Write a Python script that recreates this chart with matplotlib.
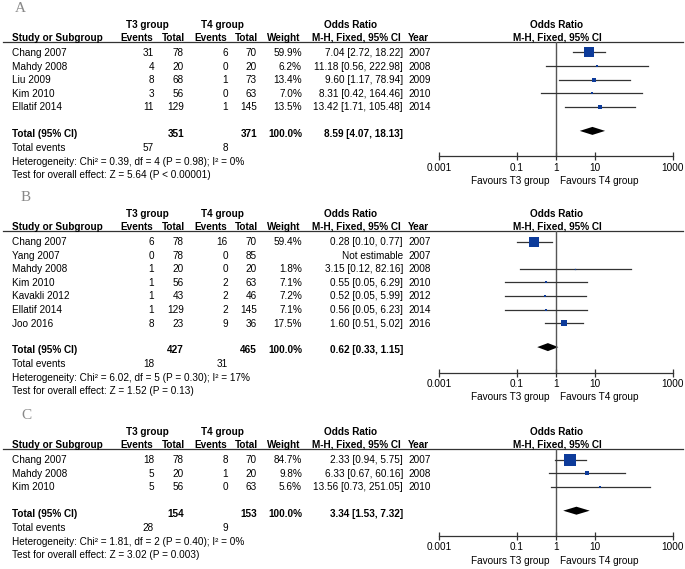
import matplotlib
matplotlib.use('Agg')
import matplotlib.pyplot as plt

plt.rcParams['font.family'] = ['Liberation Sans', 'DejaVu Sans']

# ---- panel A ----
a_study = ['Chang 2007', 'Mahdy 2008', 'Liu 2009', 'Kim 2010', 'Ellatif 2014']
a_t3_ev = [31, 4, 8, 3, 11]
a_t3_n = [78, 20, 68, 56, 129]
a_t4_ev = [6, 0, 1, 0, 1]
a_t4_n = [70, 20, 73, 63, 145]
a_weight = [59.9, 6.2, 13.4, 7.0, 13.5]
a_or = [7.04, 11.18, 9.60, 8.31, 13.42]
a_lo = [2.72, 0.56, 1.17, 0.42, 1.71]
a_hi = [18.22, 222.98, 78.94, 164.46, 105.48]
a_year = [2007, 2008, 2009, 2010, 2014]
a_total = [351, 371, 8.59, 4.07, 18.13]   # n T3, n T4, OR, lo, hi
a_events = [57, 8]
a_het = 'Heterogeneity: Chi\u00b2 = 0.39, df = 4 (P = 0.98); I\u00b2 = 0%'
a_test = 'Test for overall effect: Z = 5.64 (P < 0.00001)'

# ---- panel B ----
b_study = ['Chang 2007', 'Yang 2007', 'Mahdy 2008', 'Kim 2010', 'Kavakli 2012',
           'Ellatif 2014', 'Joo 2016']
b_t3_ev = [6, 0, 1, 1, 1, 1, 8]
b_t3_n = [78, 78, 20, 56, 43, 129, 23]
b_t4_ev = [16, 0, 0, 2, 2, 2, 9]
b_t4_n = [70, 85, 20, 63, 46, 145, 36]
b_weight = [59.4, None, 1.8, 7.1, 7.2, 7.1, 17.5]
b_or = [0.28, None, 3.15, 0.55, 0.52, 0.56, 1.60]
b_lo = [0.10, None, 0.12, 0.05, 0.05, 0.05, 0.51]
b_hi = [0.77, None, 82.16, 6.29, 5.99, 6.23, 5.02]
b_year = [2007, 2007, 2008, 2010, 2012, 2014, 2016]
b_total = [427, 465, 0.62, 0.33, 1.15]
b_events = [18, 31]
b_het = 'Heterogeneity: Chi\u00b2 = 6.02, df = 5 (P = 0.30); I\u00b2 = 17%'
b_test = 'Test for overall effect: Z = 1.52 (P = 0.13)'

# ---- panel C ----
c_study = ['Chang 2007', 'Mahdy 2008', 'Kim 2010']
c_t3_ev = [18, 5, 5]
c_t3_n = [78, 20, 56]
c_t4_ev = [8, 1, 0]
c_t4_n = [70, 20, 63]
c_weight = [84.7, 9.8, 5.6]
c_or = [2.33, 6.33, 13.56]
c_lo = [0.94, 0.67, 0.73]
c_hi = [5.75, 60.16, 251.05]
c_year = [2007, 2008, 2010]
c_total = [154, 153, 3.34, 1.53, 7.32]
c_events = [28, 9]
c_het = 'Heterogeneity: Chi\u00b2 = 1.81, df = 2 (P = 0.40); I\u00b2 = 0%'
c_test = 'Test for overall effect: Z = 3.02 (P = 0.003)'

ticks = [0.001, 0.1, 1, 10, 1000]
tick_labels = ['0.001', '0.1', '1', '10', '1000']

W, H = 685, 569
FS = 7.2
fig = plt.figure(figsize=(W / 100, H / 100), dpi=100)
base = fig.add_axes([0, 0, 1, 1])
base.set_xlim(0, W)
base.set_ylim(H, 0)
base.axis('off')

blue = '#0d3b9a'
line_col = '#333333'


def txt(x, y, s, ha='left', bold=False, **kw):
    base.text(x, y + 0.5, s, ha=ha, va='center', fontsize=FS,
              fontweight='bold' if bold else 'normal', **kw)


def panel(letter, top, study, t3e, t3n, t4e, t4n, wt, orv, lo, hi, year,
          total, events, het, test, letter_x):
    # headers
    base.text(letter_x, top - 34, letter, ha='center', va='center',
              fontsize=11, color='#888888', family='Liberation Serif')
    txt(147, top - 18, 'T3 group', ha='center', bold=True)
    txt(222, top - 18, 'T4 group', ha='center', bold=True)
    txt(351, top - 18, 'Odds Ratio', ha='center', bold=True)
    txt(557, top - 18, 'Odds Ratio', ha='center', bold=True)
    txt(12, top - 5, 'Study or Subgroup', bold=True)
    txt(137, top - 5, 'Events', ha='center', bold=True)
    txt(173, top - 5, 'Total', ha='center', bold=True)
    txt(211, top - 5, 'Events', ha='center', bold=True)
    txt(246, top - 5, 'Total', ha='center', bold=True)
    txt(284, top - 5, 'Weight', ha='center', bold=True)
    txt(401, top - 5, 'M-H, Fixed, 95% CI', ha='right', bold=True)
    txt(408, top - 5, 'Year', bold=True)
    txt(557, top - 5, 'M-H, Fixed, 95% CI', ha='center', bold=True)
    base.plot([3, 683], [top, top], color=line_col, lw=0.9)

    rows = [top + 10.5 + 13.6 * i for i in range(len(study))]
    for i, y in enumerate(rows):
        txt(12, y, study[i])
        txt(154, y, str(t3e[i]), ha='right')
        txt(184, y, str(t3n[i]), ha='right')
        txt(228, y, str(t4e[i]), ha='right')
        txt(257, y, str(t4n[i]), ha='right')
        if wt[i] is not None:
            txt(302, y, '%.1f%%' % wt[i], ha='right')
            txt(403, y, '%.2f [%.2f, %.2f]' % (orv[i], lo[i], hi[i]), ha='right')
        else:
            txt(403, y, 'Not estimable', ha='right')
        txt(408, y, str(year[i]))

    ty = rows[-1] + 26.5
    txt(12, ty, 'Total (95% CI)', bold=True)
    txt(184, ty, str(total[0]), ha='right', bold=True)
    txt(257, ty, str(total[1]), ha='right', bold=True)
    txt(302, ty, '100.0%', ha='right', bold=True)
    txt(403, ty, '%.2f [%.2f, %.2f]' % (total[2], total[3], total[4]),
        ha='right', bold=True)
    txt(12, ty + 14, 'Total events')
    txt(154, ty + 14, str(events[0]), ha='right')
    txt(228, ty + 14, str(events[1]), ha='right')
    txt(12, ty + 28, het)
    txt(12, ty + 41, test)

    # forest plot
    axis_y = ty + 23
    ax = fig.add_axes([439 / W, 1 - axis_y / H, 234 / W, (axis_y - top) / H])
    ax.patch.set_visible(False)
    ax.set_xscale('log')
    ax.set_xlim(0.001, 1000)
    ax.set_ylim(axis_y, top)
    for s in ['top', 'right', 'left']:
        ax.spines[s].set_visible(False)
    ax.spines['bottom'].set_color(line_col)
    ax.spines['bottom'].set_linewidth(0.9)
    ax.set_yticks([])
    ax.set_xticks(ticks)
    ax.set_xticklabels(tick_labels)
    ax.minorticks_off()
    ax.tick_params(axis='x', direction='inout', length=6, width=0.9,
                   color=line_col, labelsize=FS, pad=1.5)
    ax.axvline(1, color='#555555', lw=1)
    for i, y in enumerate(rows):
        if orv[i] is None:
            continue
        ax.plot([lo[i], hi[i]], [y, y], color=line_col, lw=0.9, clip_on=False)
        side = 0.9 * wt[i] ** 0.6
        ax.plot(orv[i], y, marker='s', color=blue, markersize=side * 0.72,
                markeredgewidth=0, clip_on=False)
    ax.fill([total[3], total[2], total[4], total[2]],
            [ty - 2.5, ty - 6.5, ty - 2.5, ty + 1.5], color='black', lw=0)

    txt(550, axis_y + 24, 'Favours T3 group', ha='right')
    txt(560, axis_y + 24, 'Favours T4 group')


panel('A', 42, a_study, a_t3_ev, a_t3_n, a_t4_ev, a_t4_n, a_weight, a_or,
      a_lo, a_hi, a_year, a_total, a_events, a_het, a_test, 20)
panel('B', 231, b_study, b_t3_ev, b_t3_n, b_t4_ev, b_t4_n, b_weight, b_or,
      b_lo, b_hi, b_year, b_total, b_events, b_het, b_test, 26)
panel('C', 449, c_study, c_t3_ev, c_t3_n, c_t4_ev, c_t4_n, c_weight, c_or,
      c_lo, c_hi, c_year, c_total, c_events, c_het, c_test, 26)

fig.savefig('out.png', dpi=100)
